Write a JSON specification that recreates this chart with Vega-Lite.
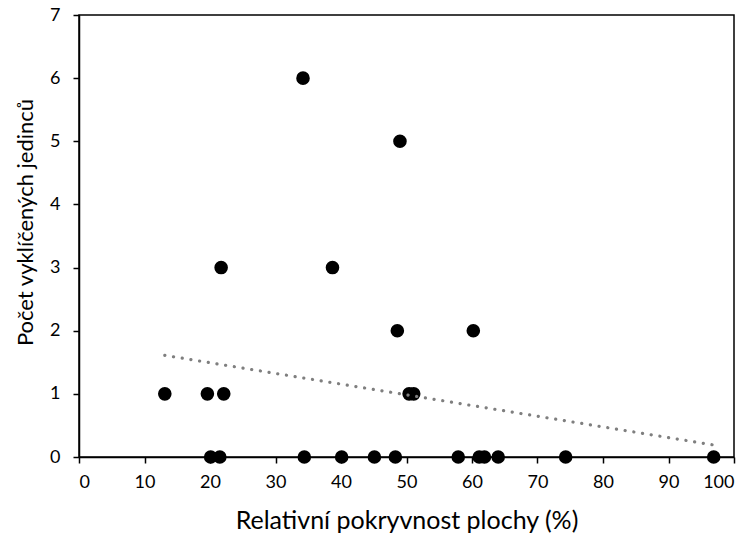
{
  "$schema": "https://vega.github.io/schema/vega-lite/v6.json",
  "width": 655,
  "height": 442,
  "autosize": {"type": "none"},
  "padding": {"left": 79, "top": 15, "right": 21, "bottom": 83},
  "background": "white",
  "config": {
    "view": {"stroke": "black", "strokeWidth": 1.5},
    "font": "Lato",
    "axis": {
      "grid": false,
      "domainColor": "black",
      "domainWidth": 1.5,
      "tickColor": "black",
      "tickWidth": 1.5,
      "tickSize": 6,
      "labelFont": "Lato",
      "labelFontSize": 18,
      "labelColor": "black",
      "titleFont": "Lato",
      "titleFontWeight": "normal",
      "titleColor": "black"
    }
  },
  "datasets": {
    "pts": [
      {"x": 20.1, "y": 0}, {"x": 21.5, "y": 0}, {"x": 34.4, "y": 0}, {"x": 40.1, "y": 0},
      {"x": 45.1, "y": 0}, {"x": 48.3, "y": 0}, {"x": 57.9, "y": 0}, {"x": 61.1, "y": 0},
      {"x": 61.9, "y": 0}, {"x": 64.0, "y": 0}, {"x": 74.3, "y": 0}, {"x": 96.9, "y": 0},
      {"x": 13.1, "y": 1}, {"x": 19.6, "y": 1}, {"x": 22.1, "y": 1}, {"x": 50.4, "y": 1}, {"x": 51.1, "y": 1},
      {"x": 48.6, "y": 2}, {"x": 60.2, "y": 2},
      {"x": 21.7, "y": 3}, {"x": 38.7, "y": 3},
      {"x": 49.0, "y": 5},
      {"x": 34.2, "y": 6}
    ],
    "trend": [
      {"x": 13.1, "y": 1.61},
      {"x": 96.9, "y": 0.19}
    ]
  },
  "layer": [
    {
      "data": {"name": "pts"},
      "mark": {"type": "circle", "size": 185, "color": "black", "opacity": 1},
      "encoding": {
        "x": {
          "field": "x", "type": "quantitative",
          "scale": {"domain": [0, 100], "nice": false, "zero": true},
          "axis": {"values": [0, 10, 20, 30, 40, 50, 60, 70, 80, 90, 100], "format": "d", "title": "Relativní pokryvnost plochy (%)", "titleFontSize": 25, "labelPadding": 10, "titlePadding": 17}
        },
        "y": {
          "field": "y", "type": "quantitative",
          "scale": {"domain": [0, 7], "nice": false},
          "axis": {"values": [0, 1, 2, 3, 4, 5, 6, 7], "format": "d", "title": "Počet vyklíčených jedinců", "titleFontSize": 22, "labelPadding": 13, "titlePadding": 12, "titleY": 207}
        }
      }
    },
    {
      "data": {"name": "trend"},
      "mark": {"type": "line", "color": "#7f7f7f", "strokeWidth": 3.2, "strokeCap": "round", "strokeDash": [0.1, 8.7]},
      "encoding": {
        "x": {"field": "x", "type": "quantitative"},
        "y": {"field": "y", "type": "quantitative"}
      }
    }
  ]
}
